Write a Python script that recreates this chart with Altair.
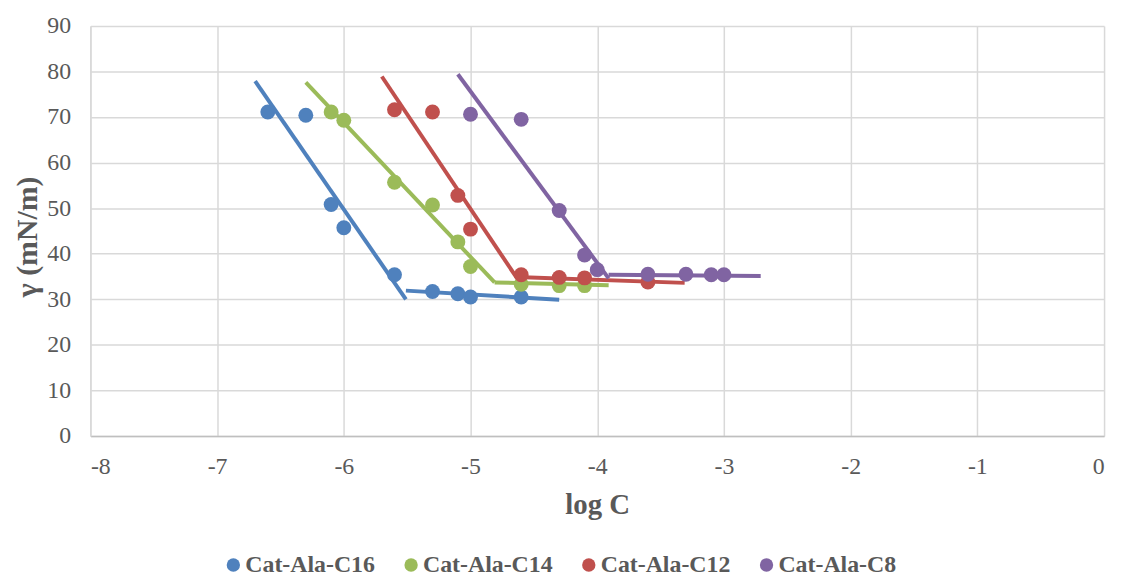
import altair as alt
import pandas as pd

series_names = ["Cat-Ala-C16", "Cat-Ala-C14", "Cat-Ala-C12", "Cat-Ala-C8"]
series_colors = ["#4F81BD", "#9BBB59", "#C0504D", "#8064A2"]

# measured points (log C, surface tension)
c16_logc = [-6.6, -6.3, -6.1, -6.0, -5.6, -5.3, -5.1, -5.0, -4.6]
c16_gamma = [71.1, 70.4, 50.8, 45.7, 35.4, 31.7, 31.2, 30.5, 30.5]
c14_logc = [-6.1, -6.0, -5.6, -5.3, -5.1, -5.0, -4.6, -4.3, -4.1]
c14_gamma = [71.1, 69.3, 55.7, 50.7, 42.6, 37.2, 33.3, 33.0, 33.0]
c12_logc = [-5.6, -5.3, -5.1, -5.0, -4.6, -4.3, -4.1, -3.6]
c12_gamma = [71.6, 71.1, 52.8, 45.4, 35.4, 34.8, 34.7, 33.8]
c8_logc = [-5.0, -4.6, -4.3, -4.1, -4.0, -3.6, -3.3, -3.1, -3.0]
c8_gamma = [70.6, 69.5, 49.5, 39.7, 36.5, 35.5, 35.5, 35.4, 35.4]

# fitted line segments: (x start, x end), (y start, y end)
c16_steep_x = [-6.70, -5.51]
c16_steep_y = [77.9, 30.0]
c16_flat_x = [-5.51, -4.30]
c16_flat_y = [31.9, 29.9]
c14_steep_x = [-6.30, -4.81]
c14_steep_y = [77.6, 33.7]
c14_flat_x = [-4.81, -3.91]
c14_flat_y = [33.7, 33.1]
c12_steep_x = [-5.70, -4.64]
c12_steep_y = [78.9, 34.9]
c12_flat_x = [-4.64, -3.31]
c12_flat_y = [34.9, 33.6]
c8_steep_x = [-5.10, -3.91]
c8_steep_y = [79.4, 34.6]
c8_flat_x = [-3.91, -2.71]
c8_flat_y = [35.4, 35.1]

x_ticks = [-8, -7, -6, -5, -4, -3, -2, -1, 0]
y_ticks = [0, 10, 20, 30, 40, 50, 60, 70, 80, 90]

point_sets = [
    (series_names[0], c16_logc, c16_gamma),
    (series_names[1], c14_logc, c14_gamma),
    (series_names[2], c12_logc, c12_gamma),
    (series_names[3], c8_logc, c8_gamma),
]
rows = []
for name, xs, ys in point_sets:
    for xv, yv in zip(xs, ys):
        rows.append({"series": name, "x": xv, "y": yv})
points = pd.DataFrame(rows)

fit_sets = [
    (series_names[0], "steep", c16_steep_x, c16_steep_y),
    (series_names[0], "flat", c16_flat_x, c16_flat_y),
    (series_names[1], "steep", c14_steep_x, c14_steep_y),
    (series_names[1], "flat", c14_flat_x, c14_flat_y),
    (series_names[2], "steep", c12_steep_x, c12_steep_y),
    (series_names[2], "flat", c12_flat_x, c12_flat_y),
    (series_names[3], "steep", c8_steep_x, c8_steep_y),
    (series_names[3], "flat", c8_flat_x, c8_flat_y),
]
frows = []
for name, seg, xs, ys in fit_sets:
    for i, (xv, yv) in enumerate(zip(xs, ys)):
        frows.append({"series": name, "seg": name + "-" + seg, "x": xv, "y": yv, "i": i})
fits = pd.DataFrame(frows)

FONT = "Liberation Serif"
TXT = "#595959"
HYPHEN_LABEL = "datum.value < 0 ? '-' + abs(datum.value) : '' + datum.value"

x_scale = alt.Scale(domain=[-8, 0], nice=False, zero=False)
y_scale = alt.Scale(domain=[0, 90], nice=False)

x_axis = alt.Axis(
    title="log C", values=x_ticks, grid=True, ticks=False,
    labelExpr=HYPHEN_LABEL,
    labelFont=FONT, labelFontSize=24, labelColor=TXT, labelPadding=19,
    titleFont=FONT, titleFontSize=29, titleFontWeight="bold", titleColor=TXT,
    titleY=78, titleBaseline="alphabetic",
    domainColor="#BFBFBF", domainWidth=1.5,
    gridColor="#D9D9D9", gridWidth=1.5,
)
y_axis = alt.Axis(
    title="γ (mN/m)", values=y_ticks, grid=True, ticks=False,
    labelFont=FONT, labelFontSize=24, labelColor=TXT, labelPadding=20,
    titleFont=FONT, titleFontSize=30, titleFontWeight="bold", titleColor=TXT,
    titleX=-54, titleY=212, titleBaseline="alphabetic",
    domainColor="#D9D9D9", domainWidth=1.5,
    gridColor="#D9D9D9", gridWidth=1.5,
)

lines = alt.Chart(fits).mark_line(strokeWidth=4).encode(
    x=alt.X("x:Q", scale=x_scale, axis=x_axis),
    y=alt.Y("y:Q", scale=y_scale, axis=y_axis),
    color=alt.Color("series:N", scale=alt.Scale(domain=series_names, range=series_colors), legend=None),
    detail="seg:N",
    order="i:Q",
)

pts = alt.Chart(points).mark_circle(opacity=1).encode(
    x=alt.X("x:Q", scale=x_scale, axis=x_axis),
    y=alt.Y("y:Q", scale=y_scale, axis=y_axis),
    color=alt.Color(
        "series:N",
        scale=alt.Scale(domain=series_names, range=series_colors),
        legend=alt.Legend(
            title=None, orient="none", legendX=132, legendY=531,
            direction="horizontal", symbolType="circle", symbolSize=180,
            labelFont=FONT, labelFontSize=24, labelFontWeight="bold", labelColor=TXT,
            columnPadding=24, labelOffset=0, padding=0, symbolStrokeWidth=0,
        ),
    ),
    size=alt.Size("series:N", scale=alt.Scale(domain=series_names, range=[225, 225, 170, 170]), legend=None),
)

chart = alt.layer(lines, pts).resolve_scale(color="independent").properties(
    width=1021, height=413,
    padding={"left": 83, "top": 16, "right": 9, "bottom": 140},
    autosize=alt.AutoSizeParams(type="none"),
).configure_view(stroke=None)

chart.save("out.html", embed_options={"renderer": "svg", "actions": False})
